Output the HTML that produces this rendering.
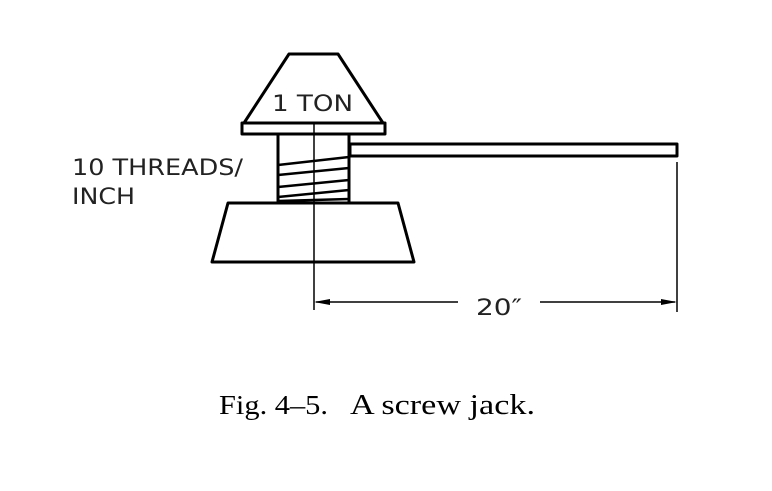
<!DOCTYPE html>
<html><head><style>body{margin:0;background:#fff}</style></head><body>
<svg width="772" height="486" xmlns="http://www.w3.org/2000/svg">
<g fill="none" stroke="#000" stroke-linejoin="round">
<polygon points="289,54 338,54 383,123 244,123" fill="#fff" stroke-width="3"/>
<rect x="242" y="123" width="143" height="11" fill="#fff" stroke-width="3"/>
<line x1="278" y1="135" x2="278" y2="203" stroke-width="3"/>
<line x1="349" y1="135" x2="349" y2="203" stroke-width="3"/>
<g stroke-width="2.5">
<line x1="278" y1="165" x2="349" y2="157"/>
<line x1="278" y1="175" x2="349" y2="168"/>
<line x1="278" y1="187" x2="349" y2="180"/>
<line x1="278" y1="197" x2="349" y2="190"/>
<line x1="278" y1="201" x2="349" y2="199"/>
</g>
<rect x="350" y="144" width="327" height="12" stroke-width="3"/>
<polygon points="228,203 398,203 414,262 212,262" fill="#fff" stroke-width="3"/>
<line x1="314" y1="122" x2="314" y2="310" stroke-width="1.5"/>
<line x1="677" y1="162" x2="677" y2="312" stroke-width="1.5"/>
<line x1="316" y1="302" x2="458" y2="302" stroke-width="1.5"/>
<line x1="540" y1="302" x2="675" y2="302" stroke-width="1.5"/>
</g>
<polygon points="314,302 330,299 330,305" fill="#000"/>
<polygon points="677,302 661,299 661,305" fill="#000"/>
<g font-family="DejaVu Sans, Liberation Sans, sans-serif" font-size="22" fill="#222">
<text x="272" y="111" textLength="81" lengthAdjust="spacingAndGlyphs">1 TON</text>
<text x="72" y="175" textLength="171" lengthAdjust="spacingAndGlyphs">10 THREADS/</text>
<text x="72" y="204" textLength="63" lengthAdjust="spacingAndGlyphs">INCH</text>
<text x="476" y="315" textLength="46" lengthAdjust="spacingAndGlyphs">20″</text>
</g>
<text x="219" y="414" font-family="Liberation Serif, serif" font-size="27" textLength="109" lengthAdjust="spacingAndGlyphs">Fig. 4–5.</text>
<text x="350" y="414" font-family="Liberation Serif, serif" font-size="29" textLength="185" lengthAdjust="spacingAndGlyphs">A screw jack.</text>
</svg>
</body></html>
